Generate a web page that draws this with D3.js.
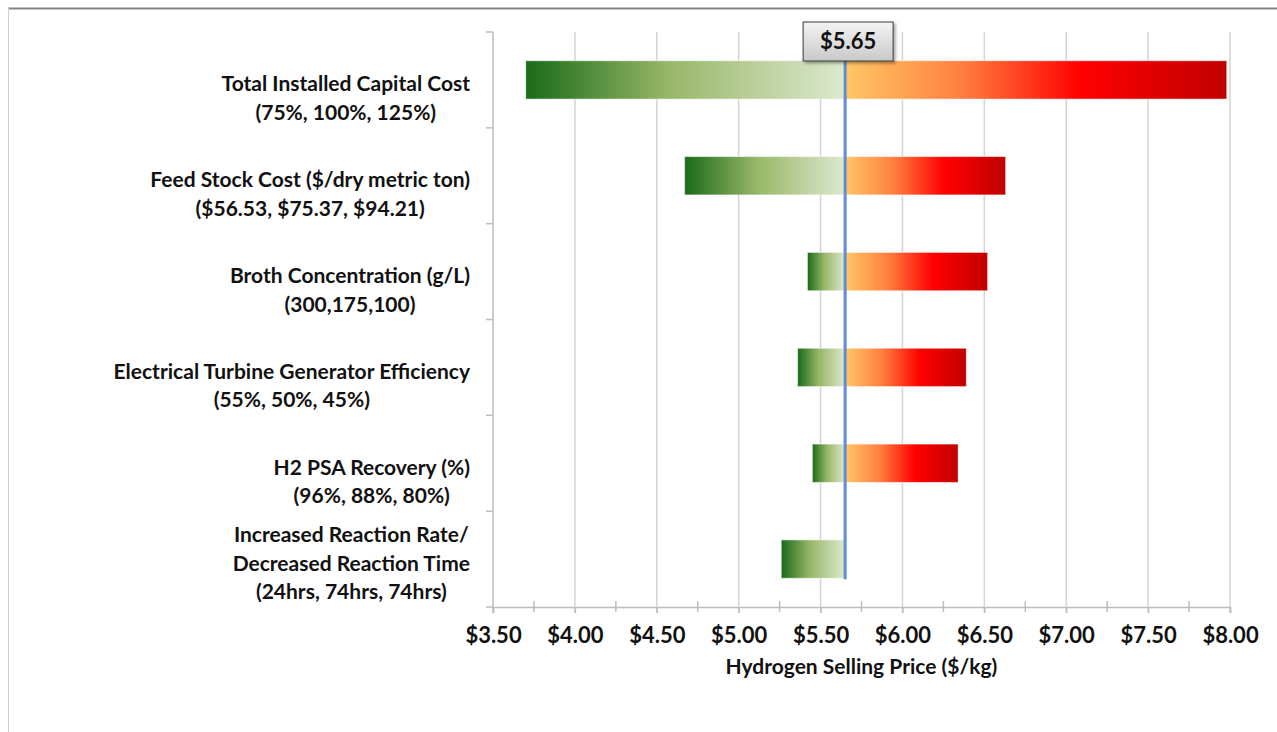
<!DOCTYPE html>
<html>
<head>
<meta charset="utf-8">
<script src="https://cdn.jsdelivr.net/npm/d3@7"></script>
<style>
  body { margin: 0; background: #fff; }
  text { font-family: Lato, "Open Sans", sans-serif; font-weight: bold; fill: #111; }
</style>
</head>
<body>
<div id="tornado"></div>
<script>
// data
var categories = [
  ["Total Installed Capital Cost", "(75%, 100%, 125%)"],
  ["Feed Stock Cost ($/dry metric ton)", "($56.53, $75.37, $94.21)"],
  ["Broth Concentration (g/L)", "(300,175,100)"],
  ["Electrical Turbine Generator Efficiency", "(55%, 50%, 45%)"],
  ["H2 PSA Recovery (%)", "(96%, 88%, 80%)"],
  ["Increased Reaction Rate/", "Decreased Reaction Time", "(24hrs, 74hrs, 74hrs)"]
];
var lowValues  = [3.70, 4.67, 5.42, 5.36, 5.45, 5.26];
var highValues = [7.98, 6.63, 6.52, 6.39, 6.34, 5.65];
var baseValue = 5.65;
var tickValues = [3.5, 4.0, 4.5, 5.0, 5.5, 6.0, 6.5, 7.0, 7.5, 8.0];
var minorTicks = [3.75, 4.25, 4.75, 5.25, 5.75, 6.25, 6.75, 7.25, 7.75];
var xTitle = "Hydrogen Selling Price ($/kg)";

var W = 1277, H = 732;
var plot = {left: 493, right: 1230, top: 32, bottom: 607};

var svg = d3.select("#tornado")
  .append("svg")
    .attr("width", W)
    .attr("height", H);

// gradients, one per side, stretched over each bar
var defs = svg.append("defs");
var gGreen = defs.append("linearGradient").attr("id", "gradLow");
gGreen.append("stop").attr("offset", "0%").attr("stop-color", "#196b19");
gGreen.append("stop").attr("offset", "45%").attr("stop-color", "#98b768");
gGreen.append("stop").attr("offset", "100%").attr("stop-color", "#dde9cf");
var gRed = defs.append("linearGradient").attr("id", "gradHigh");
gRed.append("stop").attr("offset", "0%").attr("stop-color", "#ffc766");
gRed.append("stop").attr("offset", "30%").attr("stop-color", "#ff8140");
gRed.append("stop").attr("offset", "62%").attr("stop-color", "#ff0000");
gRed.append("stop").attr("offset", "100%").attr("stop-color", "#c00000");
var gBox = defs.append("linearGradient").attr("id", "gradBox")
  .attr("x1", 0).attr("y1", 0).attr("x2", 0).attr("y2", 1);
gBox.append("stop").attr("offset", "0%").attr("stop-color", "#f4f4f4");
gBox.append("stop").attr("offset", "100%").attr("stop-color", "#c9c9c9");
var shadow = defs.append("filter").attr("id", "shadow")
  .attr("x", "-20%").attr("y", "-20%").attr("width", "150%").attr("height", "160%");
shadow.append("feDropShadow").attr("dx", 2).attr("dy", 2).attr("stdDeviation", 1.5)
  .attr("flood-color", "#000").attr("flood-opacity", 0.35);

// frame lines of the picture
svg.append("line").attr("x1", 8).attr("x2", W).attr("y1", 8.5).attr("y2", 8.5)
  .attr("stroke", "#858585").attr("stroke-width", 2);
svg.append("line").attr("x1", 8.5).attr("x2", 8.5).attr("y1", 8).attr("y2", H)
  .attr("stroke", "#cfcfcf").attr("stroke-width", 1);

// scales
var x = d3.scaleLinear()
  .domain([3.5, 8.0])
  .range([plot.left, plot.right]);
var y = d3.scaleBand()
  .domain(d3.range(categories.length))
  .range([plot.top, plot.bottom])
  .paddingInner(0.6)
  .paddingOuter(0.3);

// vertical gridlines
svg.append("g")
  .selectAll("line")
  .data(tickValues.slice(1))
  .enter()
  .append("line")
    .attr("x1", function(d) { return x(d) })
    .attr("x2", function(d) { return x(d) })
    .attr("y1", plot.top)
    .attr("y2", plot.bottom + 6)
    .attr("stroke", "#d4d4d4")
    .attr("stroke-width", 1.5);

// x axis
var xAxis = svg.append("g")
  .attr("transform", "translate(0," + plot.bottom + ")")
  .call(d3.axisBottom(x)
    .tickValues(tickValues)
    .tickSize(6)
    .tickPadding(14)
    .tickFormat(function(d) { return "$" + d.toFixed(2) }));
xAxis.select(".domain").attr("stroke", "#bdbdbd").attr("stroke-width", 1.5);
xAxis.selectAll(".tick line").attr("stroke", "#bdbdbd").attr("stroke-width", 1.5);
xAxis.selectAll(".tick text")
  .style("font-size", "22px")
  .attr("fill", "#111");

// minor ticks crossing the axis
svg.append("g")
  .selectAll("line")
  .data(minorTicks)
  .enter()
  .append("line")
    .attr("x1", function(d) { return x(d) })
    .attr("x2", function(d) { return x(d) })
    .attr("y1", plot.bottom - 6)
    .attr("y2", plot.bottom + 5)
    .attr("stroke", "#bdbdbd")
    .attr("stroke-width", 1.5);

// y axis line with ticks between the categories
var bounds = d3.range(categories.length + 1).map(function(i) { return plot.top + i * y.step() });
svg.append("line")
  .attr("x1", plot.left).attr("x2", plot.left)
  .attr("y1", plot.top).attr("y2", plot.bottom + 6)
  .attr("stroke", "#bdbdbd").attr("stroke-width", 1.5);
svg.append("g")
  .selectAll("line")
  .data(bounds)
  .enter()
  .append("line")
    .attr("x1", plot.left - 7)
    .attr("x2", plot.left)
    .attr("y1", function(d) { return d })
    .attr("y2", function(d) { return d })
    .attr("stroke", "#bdbdbd")
    .attr("stroke-width", 1.5);

// axis title
svg.append("text")
  .attr("x", (plot.left + plot.right) / 2)
  .attr("y", 674)
  .attr("text-anchor", "middle")
  .style("font-size", "21px")
  .text(xTitle);

// bars: low side (green) and high side (red)
var rows = categories.map(function(c, i) {
  return {i: i, low: lowValues[i], high: highValues[i]};
});
svg.append("g")
  .selectAll("rect")
  .data(rows.filter(function(d) { return d.low < baseValue }))
  .enter()
  .append("rect")
    .attr("x", function(d) { return x(d.low) })
    .attr("y", function(d) { return y(d.i) })
    .attr("width", function(d) { return x(baseValue) - x(d.low) })
    .attr("height", y.bandwidth())
    .attr("fill", "url(#gradLow)")
    .attr("stroke", "rgba(255,255,255,0.5)")
    .attr("stroke-width", 1);
svg.append("g")
  .selectAll("rect")
  .data(rows.filter(function(d) { return d.high > baseValue }))
  .enter()
  .append("rect")
    .attr("x", x(baseValue))
    .attr("y", function(d) { return y(d.i) })
    .attr("width", function(d) { return x(d.high) - x(baseValue) })
    .attr("height", y.bandwidth())
    .attr("fill", "url(#gradHigh)")
    .attr("stroke", "rgba(255,255,255,0.5)")
    .attr("stroke-width", 1);

// category labels, lines centred on each other, block right aligned
var lineH = 28.5;
categories.forEach(function(lines, i) {
  var cy = y(i) + y.bandwidth() / 2;
  var t = svg.append("text")
    .attr("text-anchor", "middle")
    .style("font-size", "21px");
  lines.forEach(function(s, k) {
    t.append("tspan")
      .attr("y", cy + 40 - (lines.length - 1 - k) * lineH)
      .text(s);
  });
  var maxW = d3.max(t.selectAll("tspan").nodes(), function(n) { return n.getComputedTextLength() });
  t.selectAll("tspan").attr("x", plot.left - 23 - maxW / 2);
});

// base value line
svg.append("line")
  .attr("x1", x(baseValue)).attr("x2", x(baseValue))
  .attr("y1", 58)
  .attr("y2", y(categories.length - 1) + y.bandwidth() + 1)
  .attr("stroke", "#5b8ed3")
  .attr("stroke-width", 3);

// base value callout
var bw = 90, bh = 39;
var bx = x(baseValue) + 3 - bw / 2;
svg.append("rect")
  .attr("x", bx).attr("y", 22)
  .attr("width", bw).attr("height", bh)
  .attr("fill", "url(#gradBox)")
  .attr("stroke", "#3a3a3a")
  .attr("stroke-width", 1)
  .attr("filter", "url(#shadow)");
svg.append("text")
  .attr("x", bx + bw / 2)
  .attr("y", 49)
  .attr("text-anchor", "middle")
  .style("font-size", "22px")
  .text("$" + baseValue.toFixed(2));
</script>
</body>
</html>
